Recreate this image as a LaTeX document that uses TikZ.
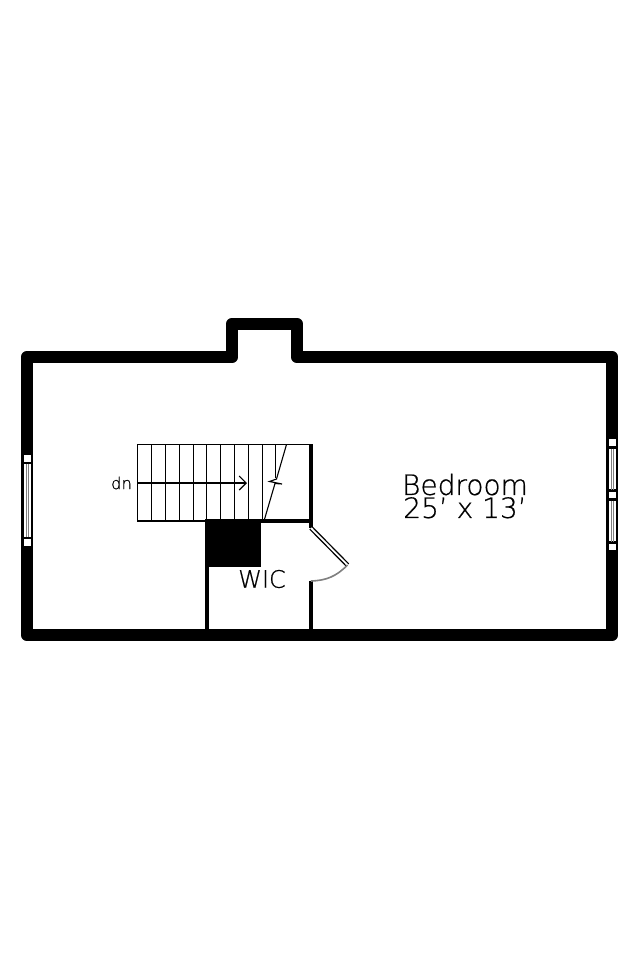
\documentclass[tikz,border=0pt]{standalone}
\usepackage{fontspec}
\setmainfont{DejaVu Sans ExtraLight}[FakeBold=0.6]
\usetikzlibrary{arrows.meta}
\tikzset{
  wall/.style={line width=12.5pt,line join=round,line cap=round},
  inwall/.style={line width=3.5pt},
  tread/.style={line width=1.1pt},
  pane/.style={draw,fill=white,line width=1.2pt},
  glass/.style={line width=.8pt,gray},
  roomlabel/.style={inner sep=0pt,font=\fontsize{28}{23}\selectfont,align=center}
}
\begin{document}
\begin{tikzpicture}[x=1pt,y=-1pt]
        \useasboundingbox (0,0) rectangle (640,960);

        % outer walls
        \coordinate (w1) at (27,357);
        \coordinate (w2) at (232,357);
        \coordinate (w3) at (232,324);
        \coordinate (w4) at (297,324);
        \coordinate (w5) at (297,357);
        \coordinate (w6) at (612,357);
        \coordinate (w7) at (612,635);
        \coordinate (w8) at (27,635);
        \draw [wall] (w1) -- (w2) -- (w3) -- (w4) -- (w5) -- (w6) -- (w7) -- (w8) -- cycle;

        % windows left
        \fill [white] (22,454) rectangle (33,548);
        \draw [pane] (23,454) rectangle (32,462.5);
        \draw [pane] (23,538.5) rectangle (32,547);
        \draw [pane] (23,463.5) rectangle (32,537.5);
        \draw [glass] (26.3,464) -- (26.3,537) (28.7,464) -- (28.7,537);

        % windows right
        \fill [white] (607,437) rectangle (618,552);
        \draw [pane] (608,438) rectangle (617,447);
        \draw [pane] (608,491) rectangle (617,499);
        \draw [pane] (608,543) rectangle (617,551);
        \draw [pane] (608,448) rectangle (617,490);
        \draw [pane] (608,500) rectangle (617,542);
        \draw [glass] (611.3,448.5) -- (611.3,489.5) (613.7,448.5) -- (613.7,489.5);
        \draw [glass] (611.3,500.5) -- (611.3,541.5) (613.7,500.5) -- (613.7,541.5);

        % stairs
        \draw [tread] (137.5,444.5) rectangle (311,521);
        \foreach \x in {151.5,165.5,179.5,193.5,206.5,220.5,234.5,248.5,262.5}
          \draw [tread] (\x,444.5) -- (\x,521);
        \draw [tread] (275.5,444.5) -- (275.5,478);
        \coordinate (b1) at (286.5,444.5);
        \coordinate (b2) at (276.5,479);
        \coordinate (b3) at (269.5,481.5);
        \coordinate (b4) at (282,484);
        \coordinate (b5) at (275,483.5);
        \coordinate (b6) at (264,521);
        \draw [tread] (b1) -- (b2) -- (b3) -- (b4) -- (b5) -- (b6);
        \node (dn) at (121.5,483) [inner sep=0pt,font=\fontsize{16.5}{16.5}\selectfont] {dn};
        \coordinate (arrowstart) at (137,483);
        \coordinate (arrowend) at (247,483);
        \draw [tread,-{Straight Barb[length=7pt,width=14pt]}] (arrowstart) -- (arrowend);

        % closet
        \draw [inwall] (311,444) -- (311,521);
        \draw [inwall] (205,521) -- (311,521);
        \fill (205,521) rectangle (261,567);
        \draw [inwall] (207,567) -- (207,630);
        \draw [inwall] (311,521) -- (311,528);
        \draw [inwall] (311,581) -- (311,630);

        % door
        \coordinate (d1) at (311,528);
        \coordinate (d2) at (347.5,565);
        \coordinate (d3) at (311,581);
        \draw [line width=4.5pt] (d1) -- (d2);
        \draw [line width=1.8pt,white] (d1) -- (d2);
        \draw [line width=1.6pt,gray] (d2) to [bend left=22] (d3);

        \node (wic) at (262,579) [inner sep=0pt,font=\fontsize{24}{24}\selectfont] {WIC};
        \node (bedroom) at (465,496) [roomlabel] {Bedroom\\25’ x 13’};
    \end{tikzpicture}
\end{document}
